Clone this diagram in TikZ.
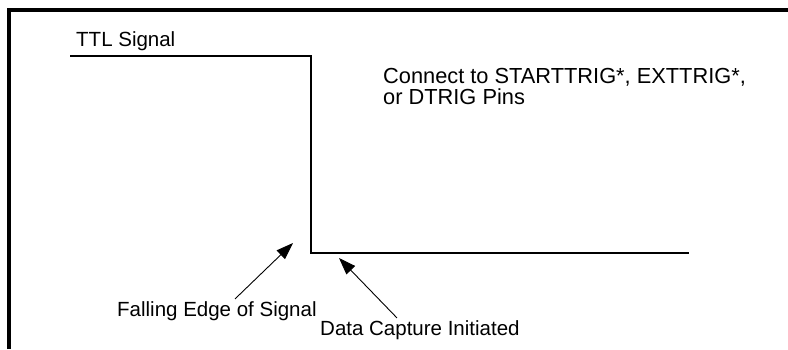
\documentclass[tikz,border=0pt]{standalone}
\usepackage{fontspec}
\setmainfont{Liberation Sans}
\usetikzlibrary{arrows.meta, positioning}

\begin{document}
\begin{tikzpicture}[
  x=1pt, y=-1pt,
  frame/.style={line width=3.5pt},
  signal/.style={line width=1.5pt},
  lbl/.style={inner sep=0pt, anchor=base west, font=\fontsize{20.5}{22.5}\selectfont},
  pointer/.style={-{Triangle[length=17pt, width=12pt]}, line width=0.9pt}
]
\useasboundingbox (0,0) rectangle (788,349);

% Frame
\draw[frame] (9,349) -- (9,10) -- (788,10);

% Signal
\coordinate (high) at (70,56);
\coordinate (edgetop) at (311,56);
\coordinate (edgebot) at (311,253);
\coordinate (low) at (689,253);
\draw[signal] (high) -- (edgetop) -- (edgebot) -- (low);

% Nodes
\node (ttl) [lbl] at (76,46) {TTL Signal};
\node (pins) [lbl, align=left, font=\fontsize{21.8}{21}\selectfont] at (383,104) {Connect to STARTTRIG*, EXTTRIG*,\\or DTRIG Pins};
\node (falling) [lbl] at (117,316) {Falling Edge of Signal};
\node (capture) [lbl] at (320,335) {Data Capture Initiated};

% Arrows
\coordinate (fallingtip) at (293,243);
\coordinate (capturetip) at (339,258);
\draw[pointer] (falling.north -| 235,0) ++(0,-2) -- (fallingtip);
\draw[pointer] (capture.north -| 397,0) ++(0,-2) -- (capturetip);

\end{tikzpicture}
\end{document}
